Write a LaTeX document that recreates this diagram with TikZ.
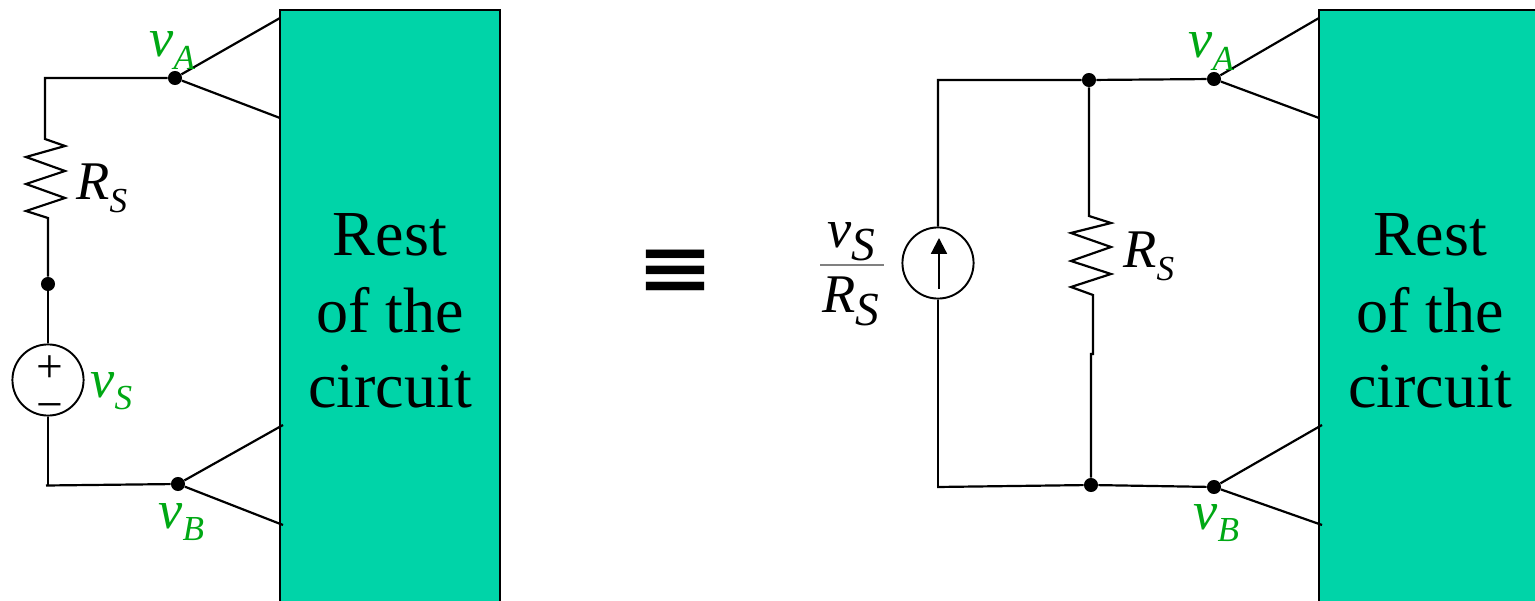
\documentclass[tikz,border=0pt]{standalone}
\usepackage{fontspec}
\usepackage{graphicx}
\setmainfont{Liberation Serif}
\newfontfamily\symfont{DejaVu Sans}
\usetikzlibrary{arrows.meta}
\definecolor{boxgreen}{RGB}{0, 212, 168}
\definecolor{labelgreen}{RGB}{0, 168, 20}
% italic letter with a lowered index, index size optional
\newcommand{\subl}[3][20pt]{\textit{\fontsize{31pt}{31pt}\selectfont #2\raisebox{-7pt}{\fontsize{#1}{#1}\selectfont #3}}}
\tikzset{
  wire/.style={line width=1.25pt, black, line join=miter},
  joint/.style={circle, fill=black, inner sep=0pt, minimum size=8pt},
  source/.style={circle, draw=black, line width=1.1pt, fill=white, inner sep=0pt, minimum size=40.5pt},
  restbox/.style={draw=black, line width=1.5pt, fill=boxgreen},
  resttext/.style={font=\fontsize{36.5pt}{36.5pt}\selectfont},
  vlabel/.style={text=labelgreen, inner sep=0pt, anchor=base west},
  rlabel/.style={text=black, inner sep=0pt, anchor=base west},
  polarity/.style={inner sep=0pt, align=center, font=\fontsize{27pt}{21.6pt}\selectfont}
}
\begin{document}
\begin{tikzpicture}[x=.02cm, y=-.02cm]
        \useasboundingbox (0,0) rectangle (1535,601);
        % left circuit
        \draw [restbox] (280,10) rectangle (500,610);
        \node [resttext] (restl1) at (390,235) {Rest};
        \node [resttext] (restl2) at (390,310) {of the};
        \node [resttext] (restl3) at (390,387) {circuit};
        \node [joint] (al) at (175,78) {};
        \node [joint] (bl) at (178,484) {};
        \node [joint] (ml) at (48,284) {};
        \node [source] (vsrc) at (48,380) {};
        \node [polarity] (pm) at (50,388) {+\\−};
        \coordinate (tal1) at (280,18);
        \coordinate (tal2) at (280,118);
        \coordinate (tbl1) at (283,425);
        \coordinate (tbl2) at (283,525);
        \coordinate (cal) at (45,78);
        \coordinate (cbl) at (46,485.5);
        \draw [wire] (tal1) -- (al) -- (tal2);
        \draw [wire] (tbl1) -- (bl) -- (tbl2);
        \draw [wire] (al) -- (cal) -- (45,139) -- (65,146) -- (26,157) -- (65,171) -- (26,184)
          -- (65,198) -- (26,211) -- (48,218) -- (ml);
        \draw [wire] (ml) -- (vsrc);
        \draw [wire] (vsrc) -- (48,485.5);
        \draw [wire] (cbl) -- (bl);
        \node [vlabel] (val) at (149,57) {\subl{v}{A}};
        \node [vlabel] (vbl) at (158,528) {\subl{v}{B}};
        \node [vlabel] (vsl) at (90,397) {\subl{v}{S}};
        \node [rlabel] (rsl) at (76,200) {\subl{R}{S}};
        % equivalence sign
        \node [inner sep=0pt] (equiv) at (676,272) {\scalebox{1.06}[.84]{\fontsize{50pt}{50pt}\selectfont\symfont\bfseries ≡}};
        % right circuit
        \draw [restbox] (1319,10) rectangle (1545,610);
        \node [resttext] (restr1) at (1430,235) {Rest};
        \node [resttext] (restr2) at (1430,310) {of the};
        \node [resttext] (restr3) at (1430,387) {circuit};
        \node [joint] (ar) at (1214,79) {};
        \node [joint] (br) at (1214,487) {};
        \node [joint] (jt) at (1089,80) {};
        \node [joint] (jb) at (1091,485) {};
        \node [source] (isrc) at (938,263) {};
        \coordinate (tar1) at (1319,18);
        \coordinate (tar2) at (1319,118);
        \coordinate (tbr1) at (1322,425);
        \coordinate (tbr2) at (1322,525);
        \coordinate (ctr) at (938,80);
        \coordinate (cbr) at (937,487);
        \coordinate (arrowtop) at (939,238);
        \coordinate (arrowend) at (939,289);
        \draw [wire] (tar1) -- (ar) -- (tar2);
        \draw [wire] (tbr1) -- (br) -- (tbr2);
        \draw [wire] (ar) -- (jt) -- (ctr) -- (isrc);
        \draw [wire] (isrc) -- (938,487);
        \draw [wire] (cbr) -- (jb) -- (br);
        \draw [wire] (jt) -- (1089,216) -- (1111,223) -- (1071,233) -- (1111,247) -- (1071,261)
          -- (1111,274) -- (1071,287) -- (1093,295) -- (1093,354) -- (1091,354) -- (jb);
        \draw [wire, -{Triangle[length=9pt, width=9pt]}] (arrowend) -- (arrowtop);
        \node [vlabel] (var) at (1188,58) {\subl{v}{A}};
        \node [vlabel] (vbr) at (1193,529) {\subl{v}{B}};
        \node [rlabel] (rsr) at (1123,268) {\subl{R}{S}};
        \node [rlabel] (fracnum) at (827,248) {\subl[27pt]{v}{S}};
        \node [rlabel] (fracden) at (822,313) {\subl[27pt]{R}{S}};
        \draw [gray, line width=.8pt] (820,265) -- (884,265);
      \end{tikzpicture}
\end{document}
